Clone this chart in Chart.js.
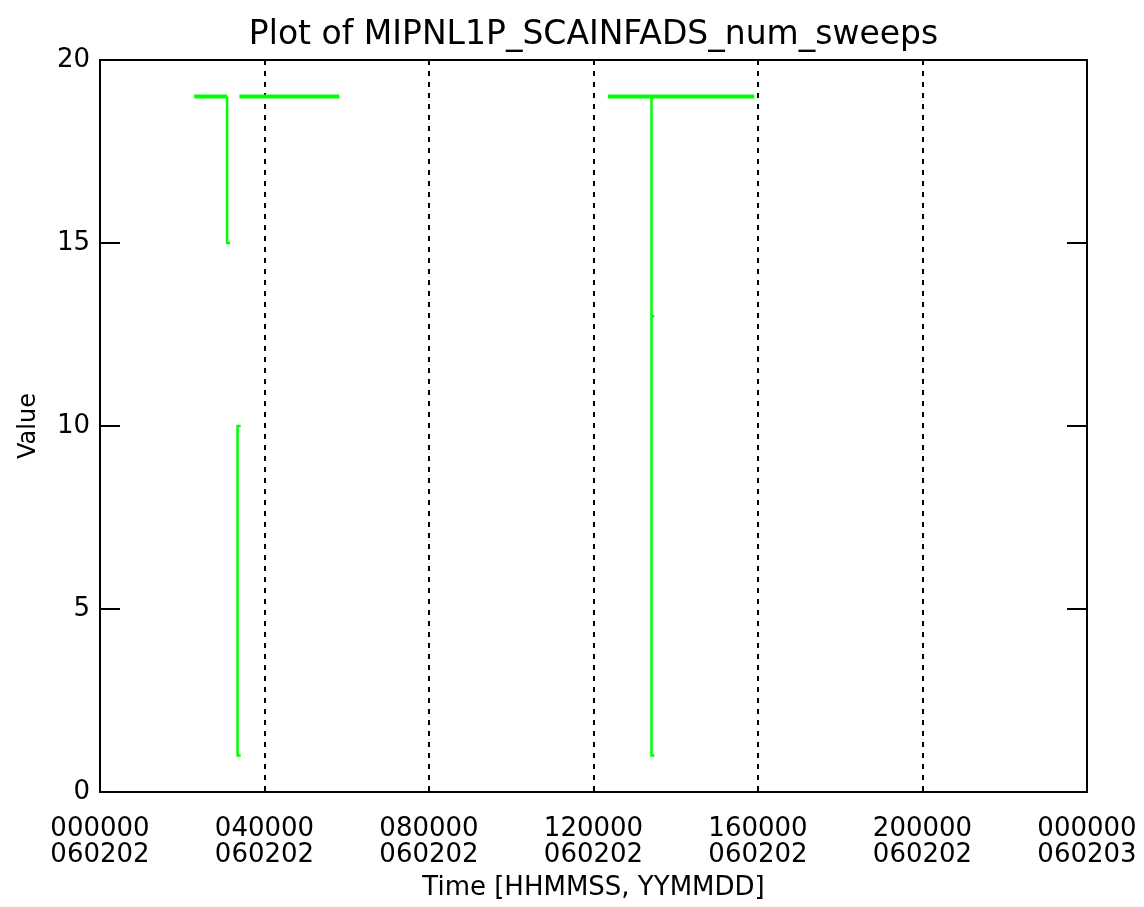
<!DOCTYPE html>
<html>
<head>
<meta charset="utf-8">
<title>MIPNL1P_SCAINFADS_num_sweeps</title>
<script src="https://cdn.jsdelivr.net/npm/chart.js@4/dist/chart.umd.min.js"></script>
<style>
  html, body { margin: 0; padding: 0; background: #fff; overflow: hidden; }
  #wrap { width: 1144px; height: 907px; }
</style>
</head>
<body>
<div id="wrap"><canvas id="myChart" width="1144" height="907"></canvas></div>
<script>
// time of each sample in hours since 000000 060202, null = gap in the data
const sampleHours = [2.29, 3.09, 3.09, 3.16, null, 3.42, 3.345, 3.345, 3.42, null, 3.39, 5.82, null, 12.35, 15.91, null, 13.41, 13.41, 13.48, 13.41, 13.41, 13.48];
const numSweeps   = [19,   19,   15,   15,   null, 10,   10,    1,     1,    null, 19,   19,   null, 19,    19,    null, 19,    13,    13,    13,    1,     1];

// x tick labels (two lines each)
const tickTimes = ['000000', '040000', '080000', '120000', '160000', '200000', '000000'];
const tickDates = ['060202', '060202', '060202', '060202', '060202', '060202', '060203'];

const points = sampleHours.map((h, i) => ({ x: h, y: numSweeps[i] }));

// frame round the plot + inward y ticks on both sides
const framePlugin = {
  id: 'frame',
  afterDraw(chart) {
    const { ctx, chartArea: { left, right, top, bottom }, scales: { y } } = chart;
    ctx.save();
    ctx.strokeStyle = '#000';
    ctx.lineWidth = 2;
    ctx.strokeRect(left, top, right - left, bottom - top);
    y.ticks.forEach(t => {
      const py = y.getPixelForValue(t.value);
      ctx.beginPath();
      ctx.moveTo(left, py); ctx.lineTo(left + 20, py);
      ctx.moveTo(right - 20, py); ctx.lineTo(right, py);
      ctx.stroke();
    });
    ctx.restore();
  }
};

const ctx = document.getElementById('myChart').getContext('2d');

const sweepsChart = new Chart(ctx, {
  type: 'line',
  data: {
    datasets: [{
      label: 'num_sweeps',
      data: points,
      borderColor: '#00ff00',
      borderWidth: 2.5,
      pointRadius: 0,
      spanGaps: false,
      segment: {
        borderWidth: c => c.p0.parsed.y === c.p1.parsed.y && c.p1.parsed.x - c.p0.parsed.x > 0.2 ? 4 : 2.5
      }
    }]
  },
  options: {
    responsive: false,
    animation: false,
    layout: { padding: { left: 0, right: 57, top: 0, bottom: 0 } },
    plugins: {
      legend: { display: false },
      tooltip: { enabled: false },
      title: {
        display: true,
        fullSize: false,
        text: 'Plot of MIPNL1P_SCAINFADS_num_sweeps',
        color: '#000',
        font: { family: 'DejaVu Sans', size: 33, weight: 'normal', lineHeight: 1.2 },
        padding: { top: 16, bottom: 4.4 }
      }
    },
    scales: {
      x: {
        type: 'linear',
        min: 0,
        max: 24,
        afterFit: s => { s.height = 115; s.paddingLeft = 0; s.paddingRight = 0; },
        afterBuildTicks: s => { s.ticks = [0, 4, 8, 12, 16, 20, 24].map(v => ({ value: v })); },
        ticks: {
          color: '#000',
          padding: 25,
          maxRotation: 0,
          autoSkip: false,
          font: { family: 'DejaVu Sans', size: 26, lineHeight: 0.97 },
          callback: (v, i) => [tickTimes[i], tickDates[i]]
        },
        grid: { color: '#000', lineWidth: 2, drawTicks: false },
        border: { display: false, dash: [5, 6] },
        title: {
          display: true,
          text: 'Time [HHMMSS, YYMMDD]',
          color: '#000',
          font: { family: 'DejaVu Sans', size: 26, lineHeight: 1.2 },
          padding: { top: 0, bottom: 3 }
        }
      },
      y: {
        min: 0,
        max: 20,
        afterFit: s => { s.width = 100; },
        ticks: {
          stepSize: 5,
          color: '#000',
          padding: 10,
          font: { family: 'DejaVu Sans', size: 26 }
        },
        grid: { display: false, drawTicks: false },
        border: { display: false },
        title: {
          display: true,
          text: 'Value',
          color: '#000',
          font: { family: 'DejaVu Sans', size: 24, lineHeight: 1.2 },
          padding: { top: 14, bottom: 0 }
        }
      }
    }
  },
  plugins: [framePlugin]
});
</script>
</body>
</html>
